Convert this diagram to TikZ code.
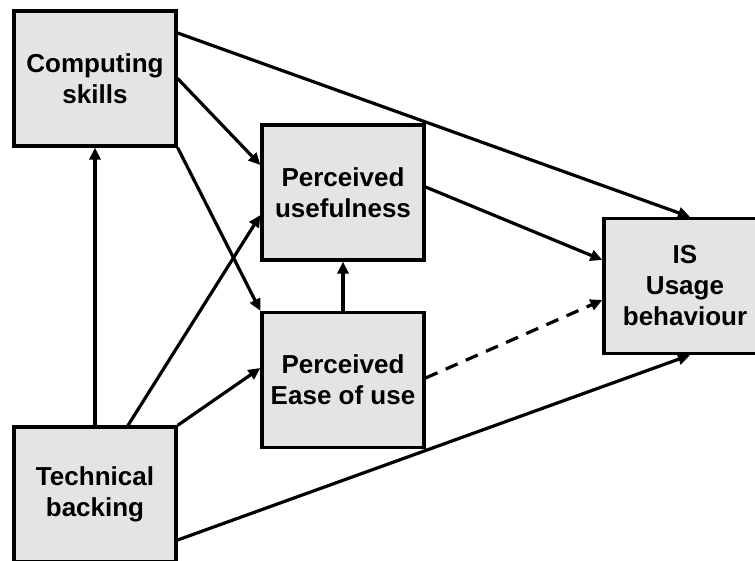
\documentclass[tikz,border=0pt]{standalone}
\usepackage{fontspec}
\setmainfont{Liberation Sans}
\usetikzlibrary{arrows.meta}
\definecolor{boxgray}{HTML}{E4E4E4}
\tikzset{
  factor/.style={draw=black, line width=3.2pt, fill=boxgray,
    minimum width=162pt, minimum height=135pt, inner sep=0pt,
    align=center, font=\fontsize{26}{31}\selectfont\bfseries},
  path/.style={line width=3.2pt, -{Triangle[length=12pt,width=11pt]}},
  weakpath/.style={path, dash pattern=on 13pt off 9pt}
}
\begin{document}
\begin{tikzpicture}[x=1pt,y=-1pt]
  \useasboundingbox (0,0) rectangle (755,561);
  \clip (0,0) rectangle (755,561);

  % constructs of the model
  \node[factor] (cs)  at (95,78.5)  {Computing\\skills};
  \node[factor] (pu)  at (343,192.5) {Perceived\\usefulness};
  \node[factor] (peu) at (343,380)  {Perceived\\Ease of use};
  \node[factor] (is)  at (685,286)  {IS\\Usage\\behaviour};
  \node[factor] (tb)  at (95,494.5) {Technical\\backing};

  % hypothesised paths
  \draw[path] ([yshift=45.5pt]cs.east) -- ([xshift=5pt]is.north);
  \draw[path] (cs.east) -- ([yshift=27.5pt]pu.west);
  \draw[path] (cs.south east) -- (peu.north west);
  \draw[path] (tb.north) -- (cs.south);
  \draw[path] ([xshift=33pt]tb.north) -- ([yshift=-22.5pt]pu.west);
  \draw[path] (tb.north east) -- ([yshift=12pt]peu.west);
  \draw[path] ([yshift=-45.5pt]tb.east) -- ([xshift=5pt]is.south);
  \draw[path] (peu.north) -- (pu.south);
  \draw[path] ([yshift=5.5pt]pu.east) -- ([yshift=26pt]is.west);
  \draw[weakpath] ([yshift=2pt]peu.east) -- ([yshift=-14pt]is.west);
\end{tikzpicture}
\end{document}
